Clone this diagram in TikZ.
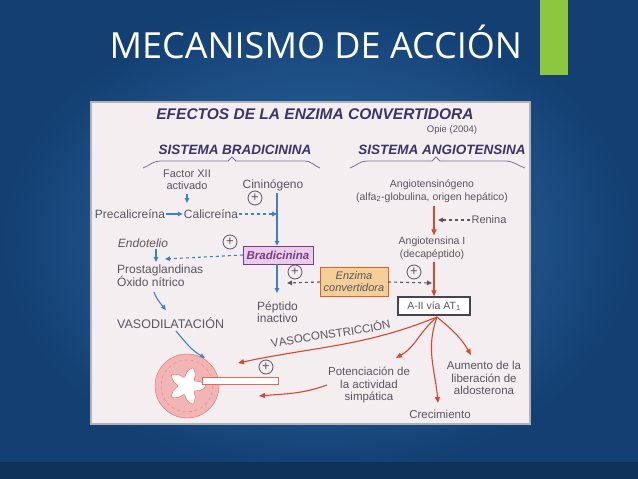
\documentclass[tikz,border=0pt]{standalone}
\usepackage{fontspec}
\setmainfont{Liberation Sans}
\newfontfamily\titlefont{Open Sans}
\usetikzlibrary{arrows.meta,decorations.text,shapes.geometric}
\definecolor{bgc}{HTML}{3472B0}
\definecolor{bgd}{HTML}{133F72}
\definecolor{panel}{HTML}{F4EEF1}
\definecolor{navy}{HTML}{3A3468}
\definecolor{txt}{HTML}{5A5560}
\definecolor{bl}{HTML}{3F80C4}
\definecolor{rd}{HTML}{D9472F}
\definecolor{lav}{HTML}{EACDEB}
\definecolor{pur}{HTML}{7A3C86}
\definecolor{org}{HTML}{F5CE98}
\definecolor{vess}{HTML}{F1B5B5}
\definecolor{grn}{HTML}{8DC63F}
\begin{document}
\begin{tikzpicture}[x=1pt,y=-1pt,
  t/.style={text=txt,font=\fontsize{12}{13}\selectfont,align=center,inner sep=1pt},
  tr/.style={text=txt,font=\fontsize{9.5}{13}\selectfont,align=center,inner sep=1pt},
  hd/.style={text=navy,font=\fontsize{13.5}{15}\selectfont\bfseries\itshape,inner sep=1pt},
  ba/.style={bl,line width=1.1pt,-{Triangle[length=5pt,width=4.5pt]}},
  ra/.style={rd,line width=1.1pt,-{Triangle[length=6pt,width=5pt]}},
  da/.style={bl,line width=1.1pt,dashed,-{Triangle[length=5pt,width=4.5pt]}},
  pl/.style={circle,draw=txt,thick,inner sep=0pt,minimum size=14pt,font=\fontsize{13}{13}\selectfont,text=txt},
  brace/.style={navy!70,thick}]
\useasboundingbox (0,0) rectangle (638,479);
\shade[inner color=bgc,outer color=bgd] (0,0) rectangle (638,479);
\fill[bgd!80!black] (0,462) rectangle (638,479);
\fill[grn] (540,0) rectangle (568,75);
\node[text=white,font=\titlefont\fontsize{36}{40}\selectfont,anchor=west] (title) at (106,42) {MECANISMO DE ACCIÓN};
\fill[panel] (91,102) rectangle (530,424);
\draw[gray!60,line width=1.5pt] (91,102) rectangle (530,424);
% headers
\node[hd,font=\fontsize{15.5}{17}\selectfont\bfseries\itshape] (h) at (315,114) {EFECTOS DE LA ENZIMA CONVERTIDORA};
\node[tr] (opie) at (452,130) {Opie (2004)};
\node[hd] (sb) at (235,150) {SISTEMA BRADICININA};
\node[hd] (sa) at (442,150) {SISTEMA ANGIOTENSINA};
\draw[brace] (143,168) to[out=20,in=180] (160,161) -- (228,161) -- (232,157) -- (236,161) -- (305,161) to[out=0,in=160] (320,168);
\draw[brace] (350,168) to[out=20,in=180] (367,161) -- (432,161) -- (436,157) -- (440,161) -- (505,161) to[out=0,in=160] (525,168);
% bradicinina side
\node[t,font=\fontsize{11}{12}\selectfont] (f12) at (187,180) {Factor XII\\activado};
\node[t] (cin) at (273,185) {Cininógeno};
\node[pl] (p1) at (255,198) {+};
\node[t] (prec) at (130,214) {Precalicreína};
\node[t] (cal) at (211,214) {Calicreína};
\coordinate (cj) at (277,214);
\node[draw=pur,fill=lav,text=pur,font=\fontsize{11.5}{12}\selectfont\bfseries\itshape,minimum width=70pt,minimum height=18pt] (bra) at (278,255) {Bradicinina};
\draw[ba] (187,194) -- (187,203);
\draw[ba] (prec) -- (cal);
\draw[da] (cal) -- (cj);
\draw[ba] (277,193) -- (bra.north -| 277,0);
\node[t,font=\fontsize{12}{13}\selectfont\itshape] (endo) at (143,243) {Endotelio};
\node[pl] (p2) at (230,242) {+};
\node[t,align=left,anchor=north west] (prost) at (116,264) {Prostaglandinas\\Óxido nítrico};
\draw[ba] (endo.south -| 156,0) -- (156,262);
\draw[da] (bra.west) -- (165,259);
\coordinate (vc1) at (166,310);
\draw[ba] (154,292) to[out=-70,in=130] (vc1);
\node[t,anchor=west,font=\fontsize{12.5}{13}\selectfont] (vaso) at (116,323) {VASODILATACIÓN};
\coordinate (vc2) at (205,358);
\draw[ba] (176,331) to[out=-50,in=150] (vc2);
\node[t,align=left,anchor=north west,font=\fontsize{12}{12.5}\selectfont] (pep) at (256,300) {Péptido\\inactivo};
\draw[ba] (277,264) -- (277,293);
\node[pl] (p3) at (295,272) {+};
\node[draw=rd!60!orange,fill=org,text=txt,font=\fontsize{11}{12}\selectfont\itshape,align=center,minimum width=68pt,minimum height=29pt,inner sep=1pt] (eca) at (354,282) {Enzima\\convertidora};
\draw[da,txt] (eca.west) -- (287,283);
\draw[da,txt] (eca.east) -- (432,283);
\node[pl] (p4) at (414,272) {+};
% angiotensina side
\node[tr,font=\fontsize{10.5}{13}\selectfont] (ang) at (432,191) {Angiotensinógeno\\(alfa\textsubscript{2}-globulina, origen hepático)};
\node[tr,font=\fontsize{11}{13}\selectfont] (ren) at (489,220) {Renina};
\draw[da,txt] (ren.west) -- (438,220);
\node[tr,font=\fontsize{10.5}{13}\selectfont] (a1) at (432,248) {Angiotensina I\\(decapéptido)};
\node[draw=txt!80!black,fill=white,text=txt,font=\fontsize{10.5}{11}\selectfont,line width=1.2pt,minimum width=72pt,minimum height=18pt,inner sep=1pt] (a2) at (434,306) {A-II vía AT\textsubscript{1}};
\draw[ra] (434,206) -- (a1.north -| 434,0);
\draw[ra] (434,262) -- (a2.north -| 434,0);
\coordinate (src) at (437,317);
\node[t,font=\fontsize{11.5}{12.5}\selectfont] (pot) at (369,385) {Potenciación de\\la actividad\\simpática};
\node[t,font=\fontsize{11.5}{12.5}\selectfont] (aum) at (484,378) {Aumento de la\\liberación de\\aldosterona};
\node[t,font=\fontsize{11.5}{12.5}\selectfont] (cre) at (440,414) {Crecimiento};
\coordinate (vt) at (238,363);
\draw[ra] (src) to[out=202,in=12] (vt);
\path[decorate,decoration={text along path,text={|\fontsize{11.5}{13}\selectfont\color{txt}|VASOCONSTRICCIÓN},text align=left}] (272,348) to[out=12,in=197] (412,322);
\draw[ra] (src) to[out=220,in=30] (396,358);
\draw[ra] (src) to[out=250,in=95] (438,403);
\draw[ra] (src) to[out=-40,in=120] (471,355);
% vessel
\fill[vess] (187,386) circle (32);
\draw[rd!80,thin] (187,386) circle (32);
\draw[rd!70,dashed,thin] (187,386) circle (26);
\fill[white,draw=rd!80] plot[smooth cycle,domain=0:342,samples=20,variable=\a] ({187+(14+5*cos(5*\a))*cos(\a)},{386+(14+5*cos(5*\a))*sin(\a)});
\node[draw=rd!80,fill=white,minimum width=76pt,minimum height=7pt,inner sep=0pt] (bar) at (240,381) {};
\node[pl] (p5) at (266,367) {+};
\draw[ra] (pot.west) to[out=200,in=5] (259,396);
\end{tikzpicture}
\end{document}
